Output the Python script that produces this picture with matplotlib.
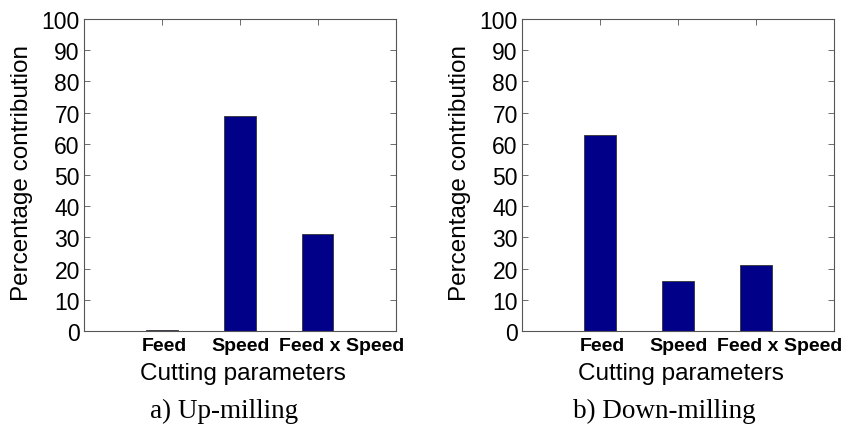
import numpy as np
import matplotlib.pyplot as plt

# Contribucion porcentual de cada parametro de corte
parametros = ['Feed', 'Speed', 'Feed x Speed']
contrib_up = [0.3, 69.0, 31.2]
contrib_down = [62.8, 16.0, 21.3]
y_ticks = list(range(0, 101, 10))
subtitulos = ['a) Up-milling', 'b) Down-milling']

color_barra = '#000088'
color_marco = '#555555'

fig = plt.figure(figsize=(8.43, 4.27), dpi=100)
ax_up = fig.add_axes([0.0996, 0.2225, 0.370, 0.7307])
ax_down = fig.add_axes([0.6192, 0.2225, 0.370, 0.7307])

pos = np.arange(1, len(parametros) + 1)
sub_x = [1.80, 1.83]

for ax, valores, sub, sx in zip([ax_up, ax_down], [contrib_up, contrib_down], subtitulos, sub_x):
    ax.bar(pos, valores, width=0.4, color=color_barra, edgecolor='#333333', linewidth=0.6)
    ax.set_xlim(0, 4)
    ax.set_ylim(0, 100)
    ax.set_yticks(y_ticks)
    ax.set_yticklabels([str(v) for v in y_ticks], fontsize=16.5, family='Liberation Sans')
    ax.tick_params(axis='y', direction='in', right=True, length=4, width=0.6,
                   color=color_marco, pad=3)
    ax.set_xticks(pos)
    ax.set_xticklabels([])
    ax.tick_params(axis='x', direction='in', top=True, bottom=False, length=4, width=0.6,
                   color=color_marco)
    for s in ax.spines.values():
        s.set_color(color_marco)
        s.set_linewidth(0.8)

    # Etiquetas de las categorias (la ultima va algo corrida a la derecha)
    desplaz = [0.03, 0.01, 0.31]
    for p, nombre, d in zip(pos, parametros, desplaz):
        ax.text(p + d, -6.1, nombre, ha='center', va='baseline', fontsize=14,
                fontweight='bold', family='Liberation Sans', clip_on=False)

    ax.text(2.04, -15.4, 'Cutting parameters', ha='center', va='baseline', fontsize=17.5,
            family='Liberation Sans')
    ax.text(-0.199, 0.508, 'Percentage contribution', rotation=90, ha='center',
            va='center', fontsize=17.5, family='Liberation Sans', transform=ax.transAxes)
    ax.text(sx, -27.6, sub, ha='center', va='baseline', fontsize=19.5,
            family='Liberation Serif', clip_on=False)

fig.savefig('out.png', dpi=100)
